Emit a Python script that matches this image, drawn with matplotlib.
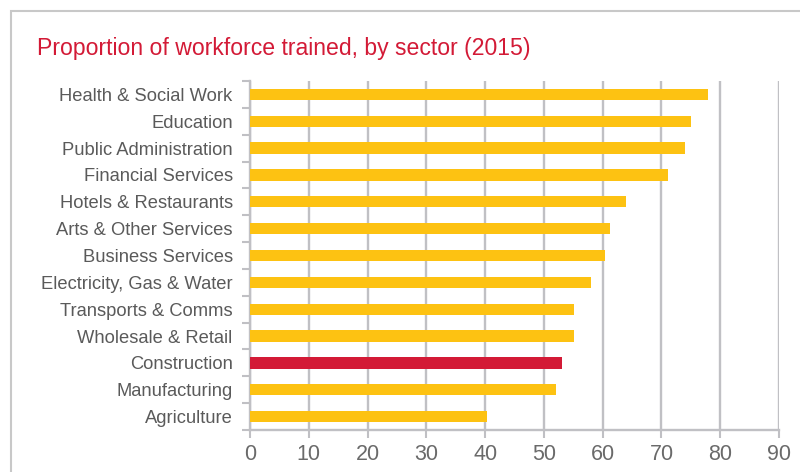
import matplotlib
matplotlib.use("Agg")
import matplotlib.pyplot as plt
from matplotlib.patches import Rectangle

categories = [
    "Health & Social Work", "Education", "Public Administration",
    "Financial Services", "Hotels & Restaurants", "Arts & Other Services",
    "Business Services", "Electricity, Gas & Water", "Transports & Comms",
    "Wholesale & Retail", "Construction", "Manufacturing", "Agriculture",
]
values = [78.0, 75.1, 74.0, 71.1, 63.9, 61.3, 60.4, 58.1, 55.2, 55.2, 53.1, 52.1, 40.4]
highlight = "Construction"
xticks = [0, 10, 20, 30, 40, 50, 60, 70, 80, 90]
title = "Proportion of workforce trained, by sector (2015)"

YELLOW = "#fdc212"
RED = "#d31a36"
GRID = "#c0c0c4"
TEXT = "#5a5a5a"

plt.rcParams['font.family'] = ['Liberation Sans', 'DejaVu Sans']

fig = plt.figure(figsize=(8, 4.72), dpi=100)
ax = fig.add_axes([250/800, 1-430/472, (779-250)/800, (430-81)/472])

n = len(categories)
ypos = list(range(n))[::-1]
colors = [RED if c == highlight else YELLOW for c in categories]
ax.barh(ypos, values, height=0.42, color=colors, zorder=3)

ax.set_xlim(0, 90)
ax.set_ylim(-0.5, n - 0.5)
ax.set_xticks(xticks)
ax.set_xticklabels([str(t) for t in xticks], fontsize=15.5, color="#6a6a6a")
ax.set_yticks(ypos)
ax.set_yticklabels(categories, fontsize=13.2, color=TEXT)
ax.tick_params(axis='y', which='major', length=0, pad=12.5)
ax.set_yticks([i - 0.5 for i in range(n + 1)], minor=True)
ax.tick_params(axis='y', which='minor', length=6, width=1.5, color=GRID)
ax.tick_params(axis='x', length=6, width=1.5, color=GRID, pad=4)

ax.grid(axis='x', color=GRID, linewidth=1.7, zorder=0)
for s in ['top', 'right']:
    ax.spines[s].set_visible(False)
for s in ['left', 'bottom']:
    ax.spines[s].set_color(GRID)
    ax.spines[s].set_linewidth(1.7)

fig.text(37/800, 1-48/472, title, color=RED, fontsize=16.6, va='center', ha='left')

fig.patches.append(Rectangle((11/800, -0.1), 1.0, 1-11/472+0.1, transform=fig.transFigure,
                             fill=False, edgecolor="#c8c8c8", linewidth=1.5))

fig.savefig("out.png", dpi=100)
